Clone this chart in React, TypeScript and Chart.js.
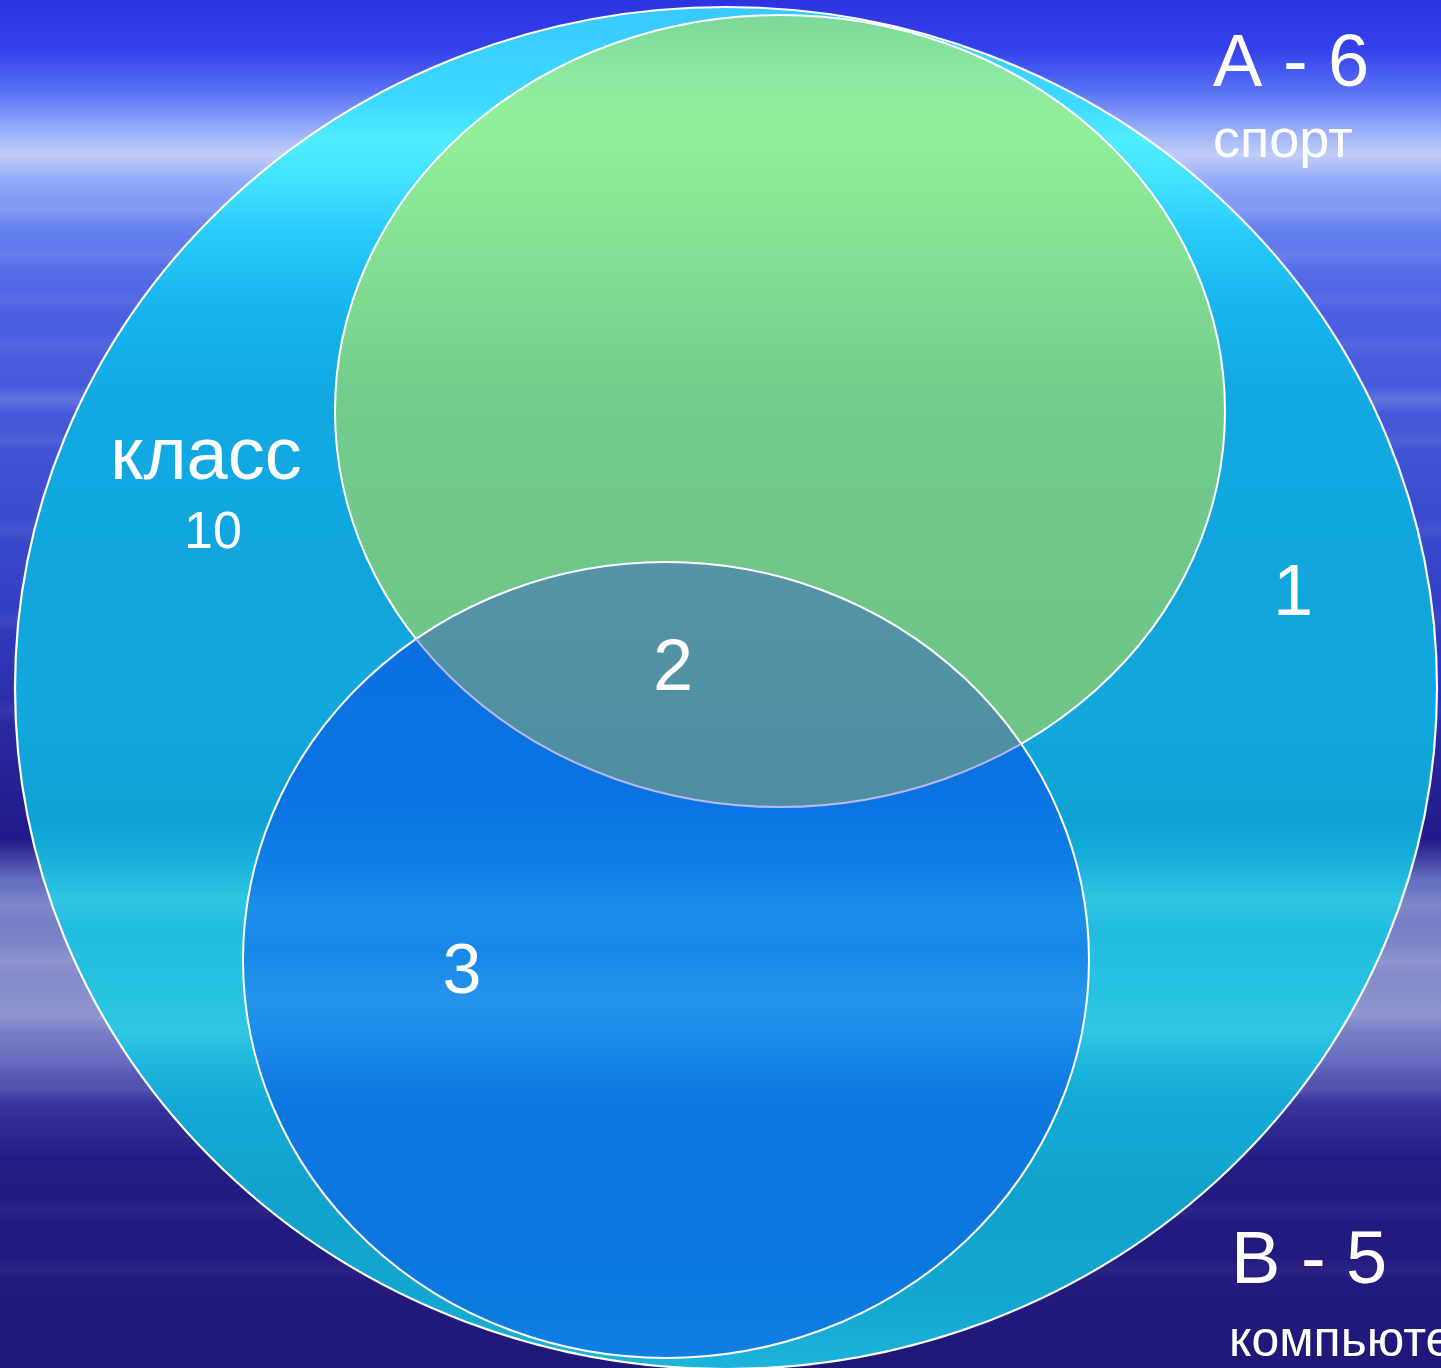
import React, { useEffect, useRef } from 'react';
import { Chart, registerables } from 'chart.js';

Chart.register(...registerables);

const W = 1441;
const H = 1368;

// ---- data ----
const setNames = ['класс', 'спорт', 'компьютер'];
const setLetters = ['', 'A', 'B'];
const setCounts = [10, 6, 5];
const regionCounts = [1, 2, 3]; // only sport, sport & computer, only computer

// ---- layout (axis units) ----
const ellipseCx = [726, 780, 666];
const ellipseCy = [688, 411, 960];
const ellipseRx = [711, 445, 423];
const ellipseRy = [681, 396, 398];

const labelTexts = [
  setNames[0],
  String(setCounts[0]),
  `${setLetters[1]} - ${setCounts[1]}`,
  setNames[1],
  `${setLetters[2]} - ${setCounts[2]}`,
  setNames[2],
  String(regionCounts[0]),
  String(regionCounts[1]),
  String(regionCounts[2]),
];
const labelX = [206, 213, 1213, 1213, 1231, 1229, 1293, 673, 462];
const labelY = [479, 548, 86, 157, 1283, 1356, 615, 690, 993];
const labelSize = [74, 52, 74, 54, 74, 50, 72, 72, 70];
const labelAlign: CanvasTextAlign[] = ['center', 'center', 'left', 'left', 'left', 'left', 'center', 'center', 'center'];

const FONT = '"Liberation Sans", Arial, sans-serif';

function grad(ctx: CanvasRenderingContext2D, y0: number, y1: number, stops: [number, string][], py: (v: number) => number) {
  const g = ctx.createLinearGradient(0, py(y0), 0, py(y1));
  stops.forEach(([y, c]) => {
    const t = Math.min(1, Math.max(0, (y - y0) / (y1 - y0)));
    g.addColorStop(t, c);
  });
  return g;
}

const bgPlugin = {
  id: 'bgPlugin',
  beforeDraw(chart: any) {
    const { ctx } = chart;
    const ys = chart.scales.y;
    const py = (v: number) => ys.getPixelForValue(v);
    ctx.save();
    ctx.fillStyle = grad(ctx, 0, H, [
      [0, '#2c34e0'],
      [50, '#3442ec'],
      [90, '#5670f4'],
      [130, '#98aef8'],
      [155, '#c0ccf8'],
      [180, '#94acf8'],
      [230, '#6480ee'],
      [300, '#4c60e2'],
      [420, '#4458d8'],
      [600, '#3440c4'],
      [780, '#262094'],
      [840, '#221a88'],
      [880, '#6670c0'],
      [940, '#7c84c8'],
      [1000, '#8890cc'],
      [1060, '#6a6ec0'],
      [1100, '#3a34a0'],
      [1160, '#241c84'],
      [1368, '#201878'],
    ], py);
    ctx.fillRect(0, 0, chart.width, chart.height);
    // soft horizontal streaks
    const streaks: [number, number, number][] = [
      [210, 14, 0.08], [255, 12, 0.07], [300, 12, 0.07], [345, 14, 0.06], [400, 14, 0.16], [440, 10, 0.07],
      [530, 12, 0.06], [620, 12, 0.06], [710, 12, 0.05], [905, 18, 0.12], [960, 16, 0.1], [1015, 18, 0.12],
      [1090, 14, 0.08], [1210, 12, 0.04], [1270, 12, 0.04],
    ];
    streaks.forEach(([y, h, a]) => {
      const g = ctx.createLinearGradient(0, py(y) - h, 0, py(y) + h);
      g.addColorStop(0, 'rgba(255,255,255,0)');
      g.addColorStop(0.5, `rgba(255,255,255,${a})`);
      g.addColorStop(1, 'rgba(255,255,255,0)');
      ctx.fillStyle = g;
      ctx.fillRect(0, py(y) - h, chart.width, 2 * h);
    });
    ctx.restore();
  },
};

const vennPlugin = {
  id: 'vennPlugin',
  beforeDatasetsDraw(chart: any) {
    const { ctx } = chart;
    const xs = chart.scales.x;
    const ys = chart.scales.y;
    const py = (v: number) => ys.getPixelForValue(v);
    const E = ellipseCx.map((cx, i) => ({
      cx: xs.getPixelForValue(cx),
      cy: ys.getPixelForValue(ellipseCy[i]),
      rx: Math.abs(xs.getPixelForValue(cx + ellipseRx[i]) - xs.getPixelForValue(cx)),
      ry: Math.abs(ys.getPixelForValue(ellipseCy[i] + ellipseRy[i]) - ys.getPixelForValue(ellipseCy[i])),
    }));
    const path = (i: number) => {
      ctx.beginPath();
      ctx.ellipse(E[i].cx, E[i].cy, E[i].rx, E[i].ry, 0, 0, Math.PI * 2);
    };
    ctx.save();
    // universal set
    path(0);
    ctx.fillStyle = grad(ctx, 0, H, [
      [0, '#38c8ff'], [100, '#3cd8ff'], [140, '#50ecff'], [180, '#42e2ff'], [230, '#28ccfa'],
      [300, '#18b6ee'], [400, '#12a8e2'], [600, '#10a6dc'], [700, '#12a8de'], [820, '#0ea2d4'],
      [860, '#18b0da'], [900, '#2ec6e2'], [930, '#22bce0'], [980, '#26c0e0'], [1030, '#2ec8e4'],
      [1060, '#20b8dc'], [1100, '#14aad6'], [1200, '#10a2cc'], [1300, '#12a6d0'], [1368, '#1cb4dc'],
    ], py);
    ctx.fill();
    ctx.lineWidth = 2.2;
    ctx.strokeStyle = '#ffffff';
    ctx.stroke();
    // sport
    path(1);
    ctx.fillStyle = grad(ctx, 15, 807, [
      [15, '#7cd89a'], [80, '#8ceaa0'], [130, '#90f098'], [250, '#84e094'], [400, '#72cc8c'],
      [600, '#6ec688'], [807, '#6cc488'],
    ], py);
    ctx.fill();
    ctx.lineWidth = 2;
    ctx.strokeStyle = '#ffffff';
    ctx.stroke();
    // computer
    path(2);
    ctx.fillStyle = grad(ctx, 562, 1358, [
      [562, '#0a6ee0'], [800, '#0a74e2'], [870, '#0e80e6'], [910, '#1c8eea'], [950, '#1888e8'],
      [1000, '#2494ec'], [1040, '#1c8aea'], [1100, '#0c78e0'], [1250, '#0a76de'], [1358, '#0e80e2'],
    ], py);
    ctx.fill();
    // intersection
    ctx.save();
    path(1);
    ctx.clip();
    path(2);
    ctx.fillStyle = grad(ctx, 562, 807, [[562, '#5494a6'], [807, '#4e8ea2']], py);
    ctx.fill();
    ctx.restore();
    path(2);
    ctx.lineWidth = 2;
    ctx.strokeStyle = '#ffffff';
    ctx.stroke();
    // sport outline seen through computer set
    ctx.save();
    path(2);
    ctx.clip();
    path(1);
    ctx.lineWidth = 2;
    ctx.strokeStyle = '#b8b8f4';
    ctx.stroke();
    ctx.restore();
    ctx.restore();
  },
};

const labelPlugin = {
  id: 'labelPlugin',
  afterDatasetsDraw(chart: any) {
    const { ctx } = chart;
    const meta = chart.getDatasetMeta(0);
    ctx.save();
    ctx.fillStyle = '#ffffff';
    ctx.textBaseline = 'alphabetic';
    meta.data.forEach((pt: any, i: number) => {
      ctx.font = `${labelSize[i]}px ${FONT}`;
      ctx.textAlign = labelAlign[i];
      ctx.fillText(labelTexts[i], pt.x, pt.y);
    });
    ctx.restore();
  },
};

export default function App() {
  const ref = useRef<HTMLCanvasElement>(null);
  useEffect(() => {
    document.body.style.margin = '0';
    const canvas = ref.current!;
    const chart = new Chart(canvas, {
      type: 'scatter',
      data: {
        datasets: [
          {
            label: 'labels',
            data: labelX.map((x, i) => ({ x, y: labelY[i] })),
            pointRadius: 0,
            showLine: false,
          },
          {
            label: 'sets',
            data: ellipseCx.map((x, i) => ({ x, y: ellipseCy[i] })),
            pointRadius: 0,
            showLine: false,
          },
        ],
      },
      options: {
        animation: false,
        responsive: false,
        events: [],
        layout: { padding: 0 },
        scales: {
          x: { type: 'linear', min: 0, max: W, display: false },
          y: { type: 'linear', min: 0, max: H, reverse: true, display: false },
        },
        plugins: { legend: { display: false }, tooltip: { enabled: false } },
      },
      plugins: [bgPlugin, vennPlugin, labelPlugin],
    } as any);
    return () => chart.destroy();
  }, []);
  return (
    <canvas
      ref={ref}
      width={W}
      height={H}
      style={{ position: 'fixed', left: 0, top: 0, width: W, height: H, display: 'block' }}
    />
  );
}
